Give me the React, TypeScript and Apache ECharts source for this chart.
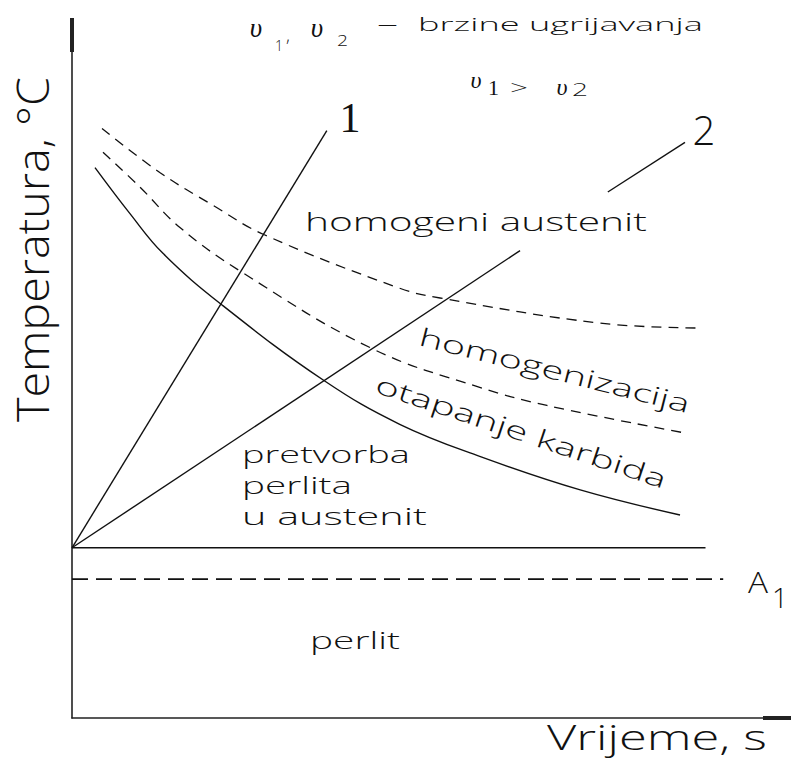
import React, { useEffect, useRef } from "react";
import * as echarts from "echarts";

// ---- data (time / temperature in arbitrary diagram units) ----
const X_MAX = 99.6;
const Y_MAX = 97.9;

const heatingRate1 = [
  [0, 24.4],
  [36.0, 84.2],
];
const heatingRate2Lower = [
  [0, 24.4],
  [63.3, 67.0],
];
const heatingRate2Upper = [
  [75.7, 75.4],
  [86.6, 82.5],
];
const transformationLine = [
  [0, 24.4],
  [89.5, 24.4],
];
const a1Line = [
  [0, 19.9],
  [92.0, 19.9],
];
const carbideDissolutionCurve = [
  [3.25, 78.9],
  [8.19, 72.3],
  [12.85, 66.6],
  [21.2, 59.2],
  [35.7, 48.3],
  [46.3, 42.1],
  [57.6, 37.5],
  [71.8, 32.7],
  [85.9, 29.1],
];
const homogenizationCurve = [
  [4.38, 81.1],
  [9.6, 76.1],
  [15.25, 70.3],
  [24.0, 63.9],
  [42.5, 52.9],
  [57.6, 47.4],
  [67.1, 44.8],
  [86.9, 40.8],
];
const homogeneousAusteniteCurve = [
  [4.24, 84.5],
  [12.4, 78.2],
  [19.9, 73.5],
  [27.1, 69.3],
  [46.3, 61.6],
  [52.0, 60.2],
  [74.6, 56.6],
  [88.3, 55.9],
];

// ---- texts ----
const T_RATES = "brzine ugrijavanja";
const T_V = "υ";
const T_HOMOGENI = "homogeni austenit";
const T_HOMOGENIZACIJA = "homogenizacija";
const T_OTAPANJE = "otapanje karbida";
const T_PRETVORBA = ["pretvorba", "perlita", "u austenit"];
const T_PERLIT = "perlit";
const T_XNAME = "Vrijeme, s";
const T_YNAME = "Temperatura, °C";

const SANS = '"Open Sans", "DejaVu Sans", sans-serif';
const TIMES = '"Liberation Serif", serif';
const INK = "#111";

type Lbl = {
  text: string;
  x: number; // left (or center) at baseline
  y: number; // baseline
  size: number;
  width?: number;
  rot?: number; // degrees, counter-clockwise
  family?: string;
  italic?: boolean;
  weight?: string;
  center?: boolean;
};

const layout: Lbl[] = [
  { text: T_V, x: 256, y: 37, size: 27, family: TIMES, italic: true, center: true },
  { text: "1", x: 275, y: 50, size: 14 },
  { text: ",", x: 286, y: 41, size: 18 },
  { text: T_V, x: 317, y: 37, size: 27, family: TIMES, italic: true, center: true },
  { text: "2", x: 337, y: 45, size: 14, width: 11 },
  { text: "—", x: 378, y: 30, size: 18, width: 19 },
  { text: T_RATES, x: 418, y: 30, size: 18, width: 285 },
  { text: T_V, x: 476, y: 88, size: 24, family: TIMES, italic: true, center: true },
  { text: "1", x: 488, y: 95, size: 22, width: 11, family: TIMES },
  { text: ">", x: 510, y: 94, size: 20, width: 18 },
  { text: T_V, x: 562, y: 95, size: 24, family: TIMES, italic: true, center: true },
  { text: "2", x: 572, y: 95, size: 18, width: 16 },
  { text: "1", x: 350, y: 133, size: 42, family: TIMES, center: true },
  { text: "2", x: 704, y: 143, size: 40, center: true },
  { text: T_HOMOGENI, x: 305, y: 230, size: 26, width: 342 },
  { text: T_HOMOGENIZACIJA, x: 418, y: 344, size: 25, width: 278, rot: -14.2 },
  { text: T_OTAPANJE, x: 374, y: 391, size: 25, width: 305, rot: -18.5 },
  { text: T_PRETVORBA[0], x: 242, y: 462, size: 23, width: 168 },
  { text: T_PRETVORBA[1], x: 242, y: 493, size: 23, width: 110 },
  { text: T_PRETVORBA[2], x: 242, y: 524, size: 23, width: 185 },
  { text: T_PERLIT, x: 310, y: 648, size: 24, width: 90 },
  { text: "A", x: 748, y: 592, size: 30, width: 20 },
  { text: "1", x: 780, y: 607, size: 28, center: true },
  { text: T_XNAME, x: 547, y: 749, size: 35, width: 220 },
  { text: T_YNAME, x: 47, y: 422, size: 44, width: 345, rot: 90 },
];

let measureCtx: CanvasRenderingContext2D | null = null;
function measure(text: string, font: string) {
  if (!measureCtx) measureCtx = document.createElement("canvas").getContext("2d");
  measureCtx!.font = font;
  return measureCtx!.measureText(text).width;
}

function makeText(l: Lbl) {
  const family = l.family || SANS;
  const weight = l.weight || (l.family ? "normal" : "300");
  const fontStyle = l.italic ? "italic" : "normal";
  const font = `${fontStyle} ${weight} ${l.size}px ${family}`;
  const w = measure(l.text, font);
  const sx = l.width ? l.width / w : 1;
  const r = ((l.rot || 0) * Math.PI) / 180;
  const off = 0.35 * l.size;
  const ux = -Math.sin(r);
  const uy = -Math.cos(r);
  return {
    type: "text",
    silent: true,
    x: l.x + off * ux,
    y: l.y + off * uy,
    rotation: r,
    scaleX: sx,
    style: {
      text: l.text,
      fontSize: l.size,
      fontFamily: family,
      fontStyle,
      fontWeight: weight,
      fill: INK,
      align: l.center ? "center" : "left",
      verticalAlign: "middle",
    },
  };
}

function lineSeries(name: string, data: number[][], dashed?: number[], width = 1.4) {
  return {
    name,
    type: "line",
    data,
    symbol: "none",
    smooth: data.length > 2 ? 0.4 : false,
    silent: true,
    lineStyle: { color: INK, width, type: dashed || "solid" },
  };
}

export default function App() {
  const ref = useRef<HTMLDivElement>(null);
  useEffect(() => {
    if (!ref.current) return;
    const chart = echarts.init(ref.current, undefined, { renderer: "svg" });
    const axisCommon = {
      type: "value",
      min: 0,
      axisLabel: { show: false },
      axisTick: { show: false },
      splitLine: { show: false },
    };
    chart.setOption({
      animation: false,
      backgroundColor: "#fff",
      grid: { left: 72, right: 14, top: 35, bottom: 43 },
      xAxis: {
        ...axisCommon,
        max: X_MAX,
        axisLine: {
          show: true,
          symbol: ["none", "rect"],
          symbolSize: [4, 28],
          lineStyle: { color: "#222", width: 1.6 },
        },
      },
      yAxis: {
        ...axisCommon,
        max: Y_MAX,
        axisLine: {
          show: true,
          symbol: ["none", "rect"],
          symbolSize: [4, 34],
          lineStyle: { color: "#222", width: 1.6 },
        },
      },
      series: [
        lineSeries("v1", heatingRate1),
        lineSeries("v2a", heatingRate2Lower),
        lineSeries("v2b", heatingRate2Upper),
        lineSeries("transformation", transformationLine),
        lineSeries("A1", a1Line, [16, 8], 1.9),
        lineSeries("carbide", carbideDissolutionCurve),
        lineSeries("homogenization", homogenizationCurve, [10, 7], 1.3),
        lineSeries("homogeneous", homogeneousAusteniteCurve, [10, 7], 1.3),
      ],
      graphic: layout.map(makeText),
    });
    return () => chart.dispose();
  }, []);
  return (
    <div
      ref={ref}
      style={{ position: "fixed", left: 0, top: 0, width: 791, height: 761, background: "#fff" }}
    />
  );
}
